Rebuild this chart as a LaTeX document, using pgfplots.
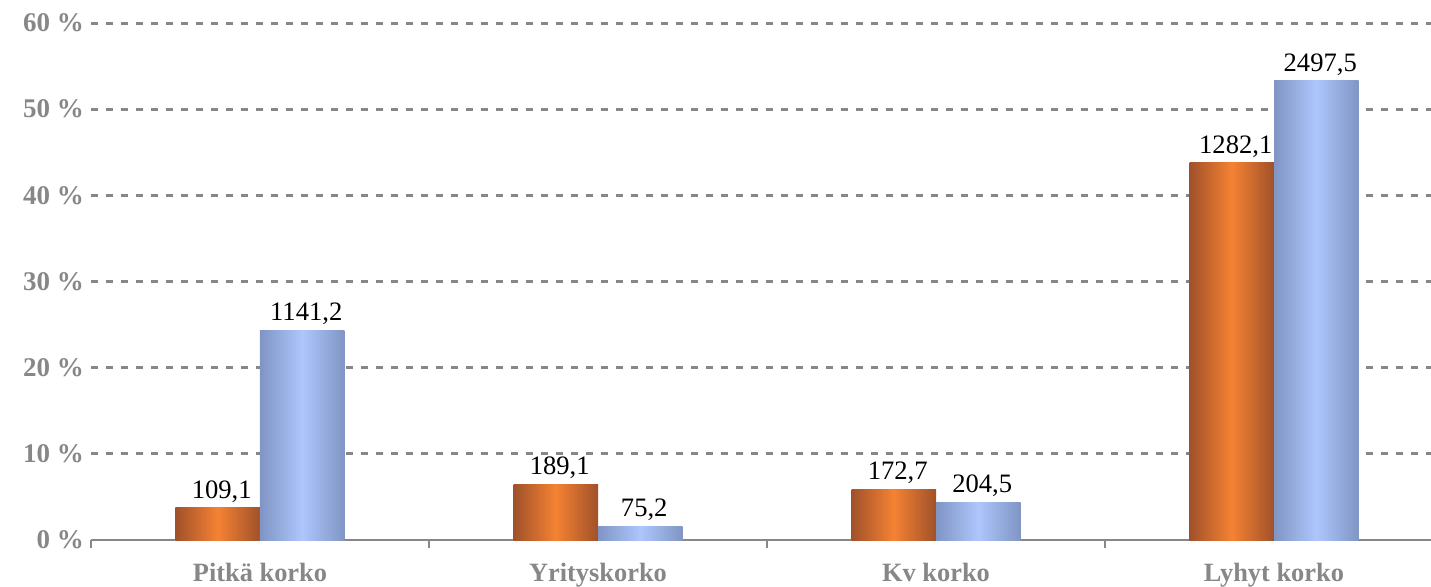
\documentclass[border=0pt]{standalone}
\usepackage{pgfplots}
\usepackage{pgfplotstable}
\pgfplotsset{compat=1.18}
\usepackage{fontspec}
\setmainfont{Liberation Serif}
\definecolor{orD}{HTML}{A0512A}
\definecolor{orL}{HTML}{F58233}
\definecolor{blD}{HTML}{8095C4}
\definecolor{blL}{HTML}{ADC6FC}
\definecolor{grT}{HTML}{878787}
\pgfplotstableread{
x y lab
0 3.726 109,1
1 6.458 189,1
2 5.898 172,7
3 43.79 1282,1
}\orangedata
\pgfplotstableread{
x y lab
0 24.35 1141,2
1 1.605 75,2
2 4.364 204,5
3 53.30 2497,5
}\bluedata
\begin{document}
\begin{tikzpicture}[x=1pt,y=1pt]
\path[use as bounding box] (-45.5,-23) rectangle (670,270);
\begin{axis}[at={(0,0)}, anchor=south west, scale only axis,
  width=676pt, height=258.5pt,
  ymin=0, ymax=60, xmin=-0.5, xmax=3.5,
  ytick={10,20,...,60}, extra y ticks={0}, extra y tick style={grid=none},
  ymajorgrids, grid style={grT, line width=1.5pt, dash pattern=on 3.5pt off 4pt},
  /pgf/number format/assume math mode=true,
  yticklabel={\pgfmathprintnumber{\tick}~\%},
  yticklabel style={font=\bfseries\fontsize{13.5}{13.5}\selectfont, text=grT},
  xtick={0,1,2,3}, xticklabels={Pitkä korko, Yrityskorko, Kv korko, Lyhyt korko},
  xticklabel style={font=\bfseries\fontsize{13.2}{13.2}\selectfont, text=grT, yshift=-8pt},
  minor xtick={-0.5,0.5,1.5,2.5,3.5},
  major tick length=0pt, minor tick length=4pt, tick align=outside,
  minor tick style={grT, line width=0.75pt},
  axis x line*=bottom, axis y line*=left,
  x axis line style={grT, line width=0.75pt, -},
  y axis line style={draw=none},
  ybar, bar width=0.25,
  point meta=explicit symbolic,
  nodes near coords,
  every node near coord/.append style={font=\fontsize{13.3}{13.3}\selectfont, text=black, anchor=south, inner sep=2.5pt, xshift=2pt},
  clip=false,
]
\pgfplotsinvokeforeach{0,1,2,3}{
\addplot[draw=none, bar shift=-0.125, left color=orD, right color=orD, middle color=orL,
  x filter/.expression={x==#1 ? x : nan}] table[x=x, y=y, meta=lab] {\orangedata};
\addplot[draw=none, bar shift=0.125, left color=blD, right color=blD, middle color=blL,
  x filter/.expression={x==#1 ? x : nan}] table[x=x, y=y, meta=lab] {\bluedata};
}
\end{axis}
\end{tikzpicture}
\end{document}
